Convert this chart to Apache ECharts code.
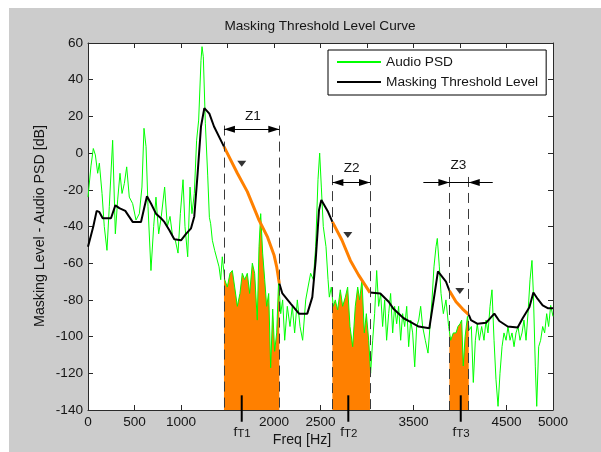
<!DOCTYPE html>
<html>
<head>
<meta charset="utf-8">
<script src="https://cdn.jsdelivr.net/npm/echarts@6/dist/echarts.min.js"></script>
<style>
html, body { margin: 0; padding: 0; background: #fff; }
#frame { position: absolute; left: 9px; top: 8px; width: 592px; height: 444px; background: #cccccc; }
#chart { position: absolute; left: 0; top: 0; width: 601px; height: 452px; }
</style>
</head>
<body>
<div id="frame"></div>
<div id="chart"></div>
<script>
// audio PSD (green)
const psdFreq = [0, 32, 57, 79, 104, 122, 151, 175, 204, 229, 265, 294, 319, 344, 366, 391, 416, 444, 480, 516, 552, 580, 602, 624, 645, 677, 706, 731, 760, 788, 824, 853, 882, 910, 939, 968, 993, 1022, 1043, 1072, 1097, 1118, 1143, 1168, 1190, 1215, 1226, 1240, 1262, 1287, 1305, 1319, 1337, 1362, 1383, 1409, 1427, 1444, 1470, 1498, 1527, 1552, 1577, 1606, 1634, 1659, 1685, 1713, 1738, 1767, 1792, 1820, 1839, 1857, 1878, 1900, 1921, 1943, 1964, 1986, 2007, 2029, 2050, 2072, 2093, 2115, 2143, 2172, 2197, 2222, 2251, 2280, 2308, 2341, 2366, 2394, 2423, 2448, 2473, 2491, 2509, 2530, 2559, 2581, 2595, 2616, 2638, 2659, 2684, 2713, 2738, 2767, 2792, 2817, 2846, 2874, 2900, 2921, 2946, 2971, 2993, 3018, 3039, 3061, 3082, 3104, 3125, 3147, 3168, 3190, 3211, 3233, 3254, 3276, 3297, 3319, 3340, 3362, 3383, 3405, 3427, 3448, 3470, 3491, 3513, 3534, 3556, 3577, 3598, 3627, 3656, 3677, 3699, 3720, 3742, 3756, 3778, 3796, 3821, 3849, 3878, 3900, 3928, 3957, 3978, 4000, 4018, 4035, 4055, 4080, 4100, 4122, 4143, 4165, 4186, 4208, 4233, 4258, 4280, 4301, 4323, 4344, 4366, 4387, 4409, 4430, 4452, 4473, 4495, 4516, 4538, 4559, 4581, 4602, 4624, 4645, 4667, 4688, 4710, 4731, 4753, 4774, 4789, 4810, 4825, 4846, 4867, 4889, 4910, 4932, 4953, 4975, 5000];
const psdLevel = [-24, -7, 2.5, -1, -11, -5.5, -22, -40, -53, -29, 7, -44, -25.5, -11, -22, -16.5, -7.5, -24, -27.5, -36.5, -33, -18.5, 13.5, 3.5, -29, -64, -40, -24, -44, -34.5, -18.5, -40, -34.5, -45.5, -47.5, -54.5, -33, -14.5, -40, -56.5, -18.5, -33, -22, 7, 18, 50.5, 58, 52.5, 16, -12, -35, -38.5, -47.5, -53, -52, -62, -69, -56.5, -69, -73, -65.5, -64, -73, -83.5, -76.5, -65.5, -69, -65.5, -76.5, -60, -65.5, -91, -51, -33, -54.5, -69, -83.5, -76.5, -117, -85, -108, -98, -69, -87.5, -80, -102, -83.5, -94.5, -83.5, -98, -80, -94.5, -102, -80, -73, -65.5, -69, -51, -14.5, 0, -18.5, -40, -51, -69, -78.5, -73, -83.5, -80, -85.5, -74.5, -83.5, -78.5, -73, -94.5, -105.5, -83.5, -73, -80, -69, -98, -87.5, -102, -120, -102, -87.5, -64, -83.5, -76.5, -94.5, -80, -102, -87.5, -76.5, -98, -83.5, -93, -83.5, -102, -87.5, -94.5, -83.5, -105.5, -91, -98, -116.5, -94.5, -91, -83.5, -94.5, -102, -109, -94.5, -80, -62, -51, -46.5, -62, -76.5, -87.5, -80, -94.5, -102, -98, -98, -94.5, -93, -91, -116, -100, -89, -96.5, -94.5, -125, -102, -93, -102, -94.5, -102, -91, -98, -83.5, -74.5, -102, -123.5, -138, -120, -105.5, -98, -102, -94.5, -102, -98, -105.5, -98, -94.5, -102, -98, -91, -102, -87.5, -69, -58.5, -76.5, -116.5, -138, -105.5, -102, -94.5, -98, -87.5, -94.5, -83, -89];

// masking threshold level (black, orange inside the zones)
const maskFreq = [0, 20, 57, 93, 120, 158, 247, 294, 337, 401, 480, 570, 606, 634, 677, 731, 785, 821, 875, 928, 1000, 1054, 1108, 1143, 1179, 1215, 1251, 1305, 1355, 1462, 1606, 1713, 1839, 1928, 2000, 2029, 2057, 2090, 2179, 2269, 2358, 2412, 2448, 2484, 2509, 2581, 2628, 2731, 2821, 2910, 3032, 3143, 3233, 3287, 3394, 3466, 3556, 3670, 3717, 3763, 3849, 3886, 3957, 4029, 4094, 4118, 4190, 4280, 4369, 4423, 4513, 4620, 4674, 4746, 4789, 4835, 4889, 4943, 5000];
const maskLevel = [-51, -51, -40, -31.5, -32, -35.5, -35.5, -28.5, -30, -31.5, -37.5, -37.5, -29.5, -23.5, -27.5, -33, -35.5, -37.5, -42, -47, -47.5, -44, -41, -34.5, -11, 14.5, 24.5, 21.5, 14.5, 3.5, -11, -21, -36.5, -45.5, -55.5, -62, -71, -76.5, -82, -87.5, -87.5, -78.5, -58.5, -31, -25.5, -32, -37.5, -47.5, -58.5, -66.5, -76, -76.5, -81, -85, -90, -92, -94.5, -95.5, -80, -64.5, -70, -75, -81, -85, -88, -91, -93, -92.5, -87.5, -91.5, -94.5, -95, -90, -84, -76, -79.5, -83, -84.5, -84.5];

// zones Z1..Z3
const zoneNames = ['Z1', 'Z2', 'Z3'];
const zoneStart = [1462, 2628, 3886];
const zoneEnd = [2057, 3032, 4094];
const zoneTop = [15, -12, -13];
const arrowLevel = [13, -16, -16];
const zoneLabelFreq = [1774, 2835, 3982];
const zoneLabelLevel = [20.3, -8.3, -6.5];
const z3ArrowFrom = [3606, 4352];

// down triangles and fT marks
const markerFreq = [1653, 2794, 3998];
const markerLevel = [-5.8, -44.7, -75.1];
const toneFreq = [1653, 2799, 4008];
const toneNames = ['T1', 'T2', 'T3'];

const xTickLabels = ['0', '500', '1000', '', '2000', '2500', '', '3500', '', '4500', '5000'];

const FONT = '"Liberation Sans", Arial, sans-serif';
const TXT = '#151515';
const AX = '#2a2a2a';

function psdAt(f) {
  for (let i = 1; i < psdFreq.length; i++) {
    if (psdFreq[i] >= f) {
      const t = (f - psdFreq[i - 1]) / (psdFreq[i] - psdFreq[i - 1]);
      return psdLevel[i - 1] + t * (psdLevel[i] - psdLevel[i - 1]);
    }
  }
  return psdLevel[psdLevel.length - 1];
}

let blackData = maskFreq.map((f, i) => {
  const inside = zoneStart.some((s, k) => f > s && f < zoneEnd[k]);
  return [f, inside ? '-' : maskLevel[i]];
});
let orangeData = maskFreq.map((f, i) => {
  const inside = zoneStart.some((s, k) => f >= s && f <= zoneEnd[k]);
  return [f, inside ? maskLevel[i] : '-'];
});

let fillSeries = zoneStart.map((s, k) => {
  let pts = [[s, psdAt(s)]];
  psdFreq.forEach((f, i) => { if (f > s && f < zoneEnd[k]) pts.push([f, psdLevel[i]]); });
  pts.push([zoneEnd[k], psdAt(zoneEnd[k])]);
  return {
    type: 'line', data: pts, symbol: 'none', silent: true, z: 1,
    lineStyle: { width: 0 },
    areaStyle: { color: '#ff8000', opacity: 1, origin: 'start' }
  };
});

// dashed zone borders and arrows
const dash = { color: '#3a3a3a', width: 1, type: [10, 6] };
const solid = { color: '#000', width: 1, type: 'solid' };
const head = { symbol: 'triangle', symbolSize: [7, 11], symbolOffset: [0, 5.5] };
let marks = [];
zoneStart.forEach((s, k) => {
  [s, zoneEnd[k]].forEach(f => {
    marks.push([{ coord: [f, zoneTop[k]], lineStyle: dash, symbol: 'none' }, { coord: [f, -140], symbol: 'none' }]);
  });
  if (k < 2) {
    marks.push([Object.assign({ coord: [s, arrowLevel[k]], lineStyle: solid }, head), Object.assign({ coord: [zoneEnd[k], arrowLevel[k]] }, head)]);
  } else {
    marks.push([{ coord: [s, arrowLevel[k]], lineStyle: solid, symbol: 'none' }, { coord: [zoneEnd[k], arrowLevel[k]], symbol: 'none' }]);
    marks.push([{ coord: [z3ArrowFrom[0], arrowLevel[k]], lineStyle: solid, symbol: 'none' }, Object.assign({ coord: [s, arrowLevel[k]] }, head)]);
    marks.push([{ coord: [z3ArrowFrom[1], arrowLevel[k]], lineStyle: solid, symbol: 'none' }, Object.assign({ coord: [zoneEnd[k], arrowLevel[k]] }, head)]);
  }
});

const axisText = { fontSize: 13.6, fontFamily: FONT, color: TXT };

function frameAxis(extra) {
  return Object.assign({
    type: 'value',
    axisLine: { show: true, onZero: false, lineStyle: { color: AX } },
    axisTick: { show: true, inside: true, length: 5, lineStyle: { color: AX } },
    splitLine: { show: false },
    axisLabel: { show: false }
  }, extra);
}

let chart = echarts.init(document.getElementById('chart'));
let option = {
  animation: false,
  backgroundColor: 'transparent',
  grid: {
    left: 88, right: 48, top: 43, bottom: 42,
    show: true, backgroundColor: '#fff', borderWidth: 0,
    containLabel: false, outerBoundsMode: 'none'
  },
  legend: {
    orient: 'vertical', left: 328, top: 50,
    itemWidth: 44, itemHeight: 14, itemGap: 6,
    padding: [5, 8, 6, 8],
    backgroundColor: '#fff', borderColor: '#000', borderWidth: 1, borderRadius: 0,
    itemStyle: { opacity: 0 },
    textStyle: { fontSize: 13.7, fontFamily: FONT, color: TXT },
    selectedMode: false,
    data: ['Audio PSD', 'Masking Threshold Level']
  },
  xAxis: [
    frameAxis({
      min: 0, max: 5000, interval: 500,
      axisLabel: Object.assign({ show: true, margin: 5, showMinLabel: true, showMaxLabel: true,
        formatter: v => xTickLabels[Math.round(v / 500)] || '' }, axisText)
    }),
    frameAxis({ position: 'top', min: 0, max: 5000, interval: 500 })
  ],
  yAxis: [
    frameAxis({
      min: -140, max: 60, interval: 20,
      axisLabel: Object.assign({ show: true, margin: 5, showMinLabel: true, showMaxLabel: true }, axisText)
    }),
    frameAxis({ position: 'right', min: -140, max: 60, interval: 20 })
  ],
  series: fillSeries.concat([
    {
      name: 'Audio PSD', type: 'line', symbol: 'none', z: 2, silent: true,
      data: psdFreq.map((f, i) => [f, psdLevel[i]]),
      itemStyle: { color: '#00ff00' },
      lineStyle: { color: '#00ff00', width: 1 }
    },
    {
      name: 'Masking Threshold Level', type: 'line', symbol: 'none', z: 3, silent: true,
      data: blackData, connectNulls: false,
      itemStyle: { color: '#000' },
      lineStyle: { color: '#000', width: 2 }
    },
    {
      name: 'zone threshold', type: 'line', symbol: 'none', z: 4, silent: true,
      data: orangeData, connectNulls: false,
      itemStyle: { color: '#ff8000' },
      lineStyle: { color: '#ff8000', width: 3 }
    },
    {
      name: 'marks', type: 'line', data: [], symbol: 'none', z: 5, silent: true,
      itemStyle: { color: '#000' },
      markLine: { silent: true, animation: false, label: { show: false }, emphasis: { disabled: true }, data: marks }
    },
    {
      name: 'markers', type: 'scatter', z: 6, silent: true,
      symbol: 'triangle', symbolRotate: 180, symbolSize: [9, 6],
      itemStyle: { color: '#000' },
      data: markerFreq.map((f, i) => [f, markerLevel[i]])
    }
  ])
};
chart.setOption(option);

// texts and fT marks
const px = (x, y) => chart.convertToPixel({ xAxisIndex: 0, yAxisIndex: 0 }, [x, y]);
let g = [
  { type: 'text', x: 320, y: 26, style: { text: 'Masking Threshold Level Curve', fontSize: 13.6, fontFamily: FONT, fill: TXT, align: 'center', verticalAlign: 'middle' } },
  { type: 'text', x: 302, y: 440, style: { text: 'Freq [Hz]', fontSize: 14.2, fontFamily: FONT, fill: TXT, align: 'center', verticalAlign: 'middle' } },
  { type: 'text', x: 40, y: 226, rotation: Math.PI / 2, style: { text: 'Masking Level - Audio PSD [dB]', fontSize: 14.2, fontFamily: FONT, fill: TXT, align: 'center', verticalAlign: 'middle' } }
];
zoneNames.forEach((n, k) => {
  const p = px(zoneLabelFreq[k], zoneLabelLevel[k]);
  g.push({ type: 'text', x: p[0], y: p[1], z: 10, style: { text: n, fontSize: 13.6, fontFamily: FONT, fill: TXT, align: 'center', verticalAlign: 'middle' } });
});
toneFreq.forEach((f, k) => {
  const top = px(f, -132);
  const bot = px(f, -146.4);
  g.push({ type: 'line', z: 10, shape: { x1: top[0], y1: top[1], x2: bot[0], y2: bot[1] }, style: { stroke: '#000', lineWidth: 2 } });
  g.push({ type: 'text', x: top[0] - 4.4, y: 432, style: { text: 'f', fontSize: 13.6, fontFamily: FONT, fill: TXT, align: 'right', verticalAlign: 'middle' } });
  g.push({ type: 'text', x: top[0] - 4.4, y: 433.5, style: { text: toneNames[k], fontSize: 11.5, fontFamily: FONT, fill: TXT, align: 'left', verticalAlign: 'middle' } });
});
chart.setOption({ graphic: g });
</script>
</body>
</html>
